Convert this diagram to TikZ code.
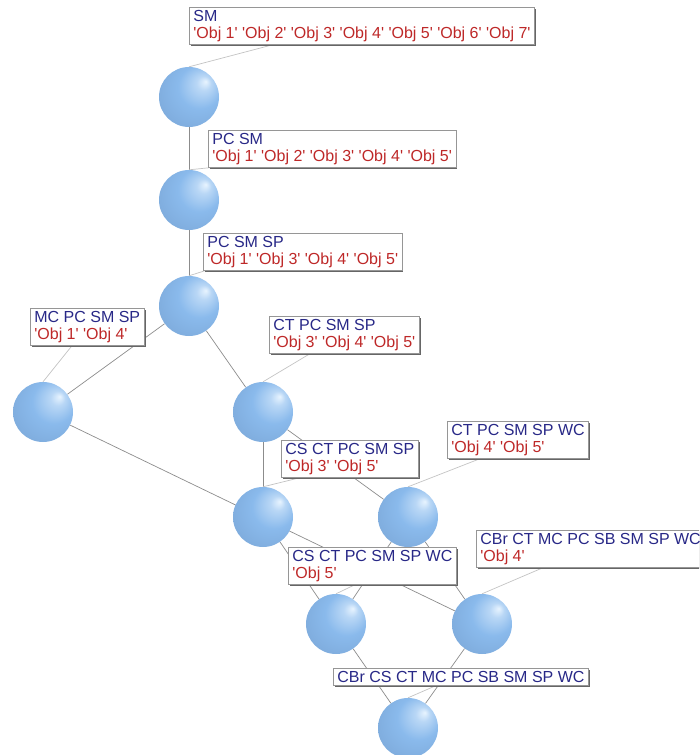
\documentclass[tikz,border=0pt]{standalone}
\usepackage{fontspec}
\newfontfamily\lab{Liberation Sans}
\usetikzlibrary{shadows}
\definecolor{attr}{RGB}{40,40,135}
\definecolor{objc}{RGB}{190,40,40}
\definecolor{hl}{RGB}{232,244,255}
\definecolor{mid}{RGB}{138,186,236}
\definecolor{dk}{RGB}{68,98,140}
\definecolor{edgec}{RGB}{140,140,140}
\definecolor{leadc}{RGB}{195,195,195}
\definecolor{boxc}{RGB}{150,150,150}
\pgfdeclareradialshading{sphsh}{\pgfpoint{14bp}{13bp}}{color(0bp)=(hl); color(6bp)=(hl!50!mid); color(18bp)=(mid); color(32bp)=(mid!85!dk); color(46bp)=(dk!75!mid); color(50bp)=(dk)}
\pgfdeclarelayer{bg}
\pgfsetlayers{bg,main}
\newcommand{\ob}[1]{\textquotesingle Obj #1\textquotesingle}
\tikzset{
  sph/.style={circle, minimum size=60pt, inner sep=0pt, shading=sphsh},
  lbox/.style={draw=boxc, fill=white, line width=0.7pt, anchor=north west, align=left,
    inner xsep=4pt, inner ysep=3pt, font=\lab\fontsize{16}{16.5}\selectfont,
    drop shadow={shadow xshift=1.4pt, shadow yshift=-1.4pt, fill=black!60, opacity=1}},
  lattedge/.style={draw=edgec, line width=0.7pt},
  leader/.style={draw=leadc, line width=0.7pt}
}
\begin{document}
\begin{tikzpicture}[x=1pt,y=-1pt]
\useasboundingbox (0,0) rectangle (699,755);
\clip (0,0) rectangle (699,755);
% spheres
\node[sph] (A) at (189,97) {};
\node[sph] (B) at (189,200) {};
\node[sph] (C) at (189,306) {};
\node[sph] (D) at (43,412) {};
\node[sph] (E) at (263,412) {};
\node[sph] (F) at (263,517) {};
\node[sph] (G) at (408,517) {};
\node[sph] (H) at (336,624) {};
\node[sph] (I) at (482,624) {};
\node[sph] (J) at (408,728) {};
% labels
\node[lbox] (lA) at (189,7) {\color{attr}SM\\\color{objc}\ob1 \ob2 \ob3 \ob4 \ob5 \ob6 \ob7};
\node[lbox] (lB) at (208,130) {\color{attr}PC SM\\\color{objc}\ob1 \ob2 \ob3 \ob4 \ob5};
\node[lbox] (lC) at (203,233) {\color{attr}PC SM SP\\\color{objc}\ob1 \ob3 \ob4 \ob5};
\node[lbox] (lD) at (30,308) {\color{attr}MC PC SM SP\\\color{objc}\ob1 \ob4};
\node[lbox] (lE) at (269,316) {\color{attr}CT PC SM SP\\\color{objc}\ob3 \ob4 \ob5};
\node[lbox] (lF) at (281,440) {\color{attr}CS CT PC SM SP\\\color{objc}\ob3 \ob5};
\node[lbox] (lG) at (447,421) {\color{attr}CT PC SM SP WC\\\color{objc}\ob4 \ob5};
\node[lbox] (lH) at (288,547) {\color{attr}CS CT PC SM SP WC\\\color{objc}\ob5};
\node[lbox] (lI) at (476,530) {\color{attr}CBr CT MC PC SB SM SP WC\\\color{objc}\ob4};
\node[lbox] (lJ) at (333,668) {\color{attr}CBr CS CT MC PC SB SM SP WC};
\begin{pgfonlayer}{bg}
% lattice edges
\draw[lattedge] (A) -- (B);
\draw[lattedge] (B) -- (C);
\draw[lattedge] (C) -- (D);
\draw[lattedge] (C) -- (E);
\draw[lattedge] (E) -- (F);
\draw[lattedge] (E) -- (G);
\draw[lattedge] (D) -- (I);
\draw[lattedge] (F) -- (H);
\draw[lattedge] (G) -- (H);
\draw[lattedge] (G) -- (I);
\draw[lattedge] (H) -- (J);
\draw[lattedge] (I) -- (J);
% leaders
\draw[leader] ([xshift=84pt]lA.south west) -- (A.north);
\draw[leader] ([xshift=2pt]lB.south west) -- (B.north);
\draw[leader] ([xshift=2pt]lC.south west) -- (C.north);
\draw[leader] ([xshift=42pt]lD.south west) -- (D.north);
\draw[leader] ([xshift=41pt]lE.south west) -- (E.north);
\draw[leader] ([xshift=19pt]lF.south west) -- (F.north);
\draw[leader] ([xshift=33pt]lG.south west) -- (G.north);
\draw[leader] ([xshift=67pt]lH.south west) -- (H.north);
\draw[leader] ([xshift=67pt]lI.south west) -- (I.north);
\draw[leader] ([xshift=102pt]lJ.south west) -- (J.north);
\end{pgfonlayer}
\end{tikzpicture}
\end{document}
